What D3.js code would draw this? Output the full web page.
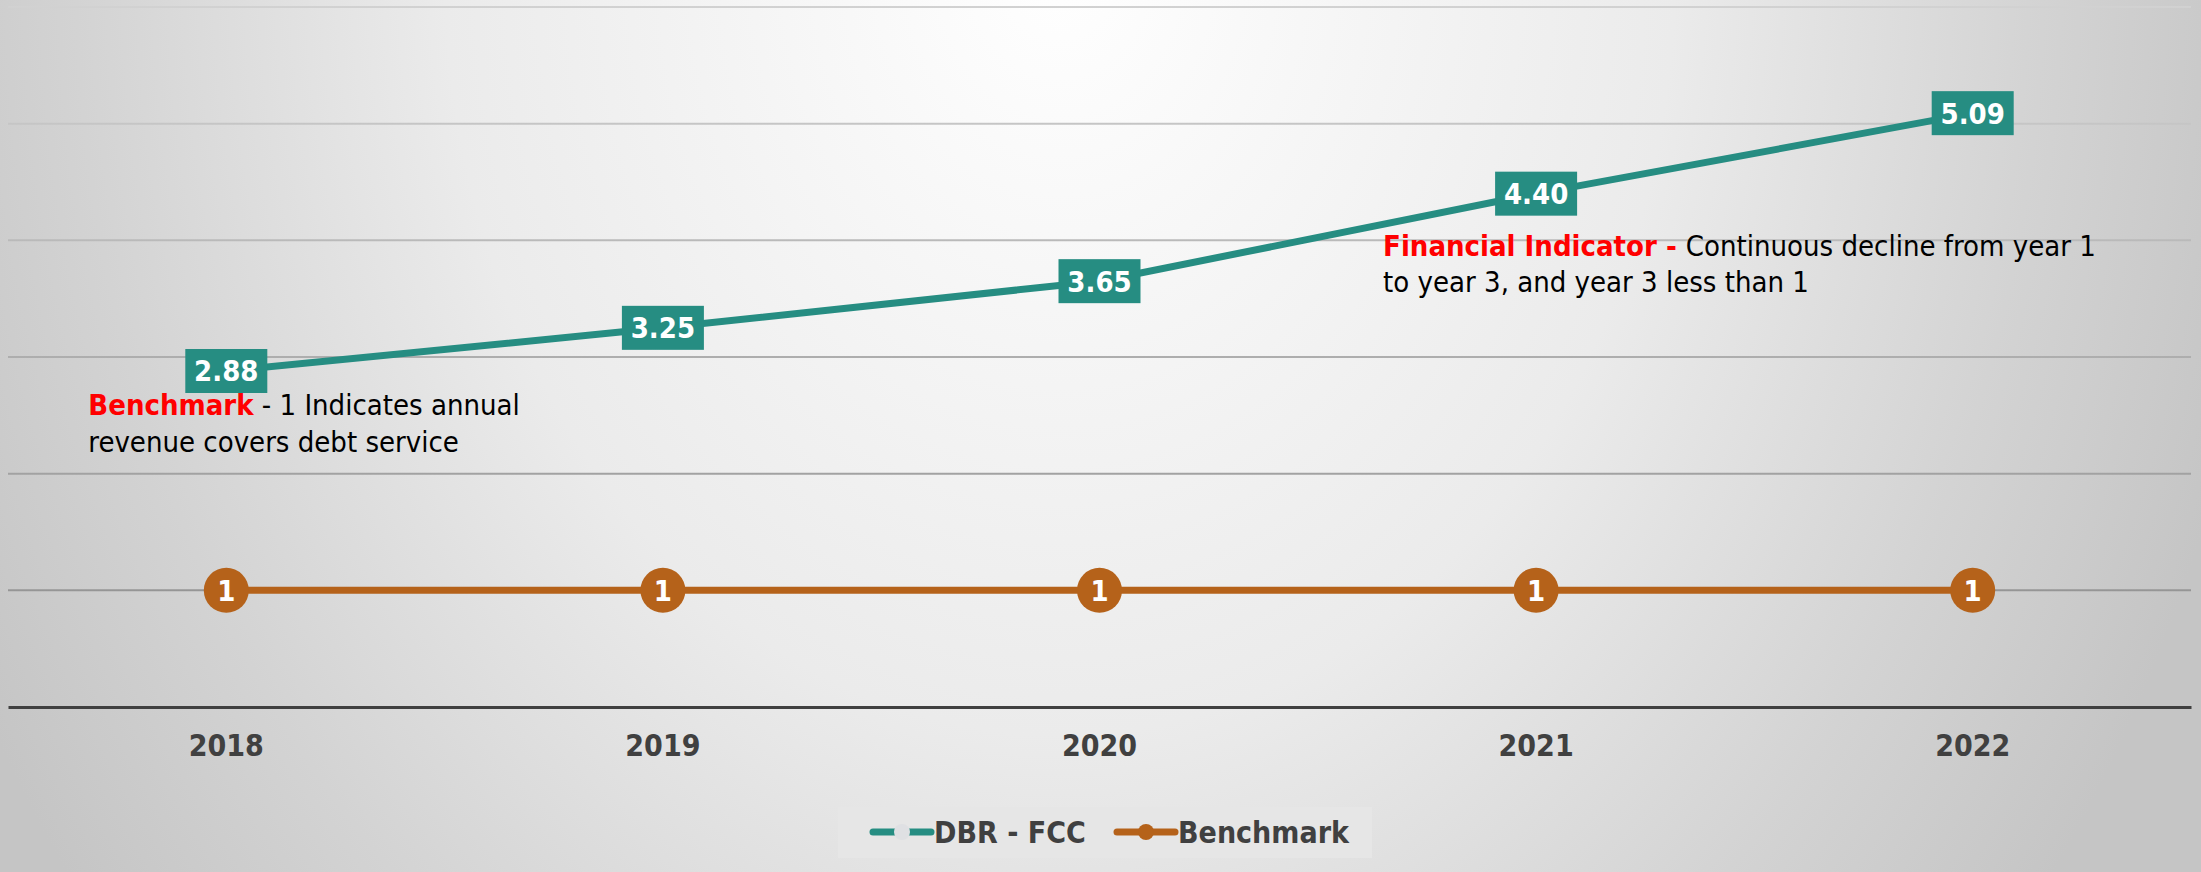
<!DOCTYPE html>
<html>
<head>
<meta charset="utf-8">
<script src="https://cdn.jsdelivr.net/npm/d3@7"></script>
<style>
  body { margin: 0; overflow: hidden; }
  text { font-family: Tahoma, "DejaVu Sans Condensed", "DejaVu Sans", sans-serif; }
</style>
</head>
<body>
<script>
        //chart data
        var years = ["2018", "2019", "2020", "2021", "2022"];
        var dbrFcc = [2.88, 3.25, 3.65, 4.40, 5.09];
        var benchmark = [1, 1, 1, 1, 1];
        var yTicks = [0, 1, 2, 3, 4, 5, 6];
        var seriesNames = ["DBR - FCC", "Benchmark"];

        var width = 2201
        var height = 872

        var teal = "#268d82"
        var orange = "#b5621a"
        var axisGrey = "#404040"

        var svg = d3.select("body")
            .append("svg")
            .attr("width", width)
            .attr("height", height);

        var defs = svg.append("defs")

        //light spot at the top, grey towards the sides (ellipse via transform)
        var bg = defs.append("radialGradient")
            .attr("id", "bg")
            .attr("gradientUnits", "userSpaceOnUse")
            .attr("cx", 0).attr("cy", 0).attr("r", 1)
            .attr("gradientTransform", "translate(1060,-40) scale(1230,1550)")
        bg.append("stop").attr("offset", "0").attr("stop-color", "#ffffff")
        bg.append("stop").attr("offset", "0.5").attr("stop-color", "#ebebeb")
        bg.append("stop").attr("offset", "0.8").attr("stop-color", "#d3d3d3")
        bg.append("stop").attr("offset", "1").attr("stop-color", "#c5c5c5")

        //gridlines get darker lower down
        var gg = defs.append("linearGradient")
            .attr("id", "grid")
            .attr("gradientUnits", "userSpaceOnUse")
            .attr("x1", 0).attr("y1", 0).attr("x2", 0).attr("y2", 707)
        gg.append("stop").attr("offset", "0").attr("stop-color", "#d2d2d2")
        gg.append("stop").attr("offset", "1").attr("stop-color", "#8a8a8a")

        svg.append("rect")
            .attr("width", width)
            .attr("height", height)
            .attr("fill", "url(#bg)")

        var x = d3.scaleBand()
            .domain(years)
            .range([8, 2191])

        var y = d3.scaleLinear()
            .domain([0, 6])
            .range([707, 7])

        function cx(d) { return x(d) + x.bandwidth() / 2 }

        //gridlines
        svg.selectAll(".grid")
            .data(yTicks.slice(1))
            .enter()
            .append("line")
            .attr("class", "grid")
            .attr("x1", x.range()[0])
            .attr("x2", x.range()[1])
            .attr("y1", function(d) { return y(d) })
            .attr("y2", function(d) { return y(d) })
            .attr("stroke", "url(#grid)")
            .attr("stroke-width", 2)

        //x axis
        var xAxis = svg.append("g")
            .attr("transform", "translate(0," + y(0) + ")")
            .call(d3.axisBottom(x).tickSize(0).tickPadding(28))
        xAxis.select(".domain")
            .attr("stroke", axisGrey)
            .attr("stroke-width", 3)
        xAxis.selectAll("text")
            .attr("font-size", 30)
            .attr("font-weight", "bold")
            .attr("fill", axisGrey)
            .style("font-family", 'Tahoma, "DejaVu Sans Condensed", "DejaVu Sans", sans-serif')

        //annotation notes
        var note1 = svg.append("text")
            .attr("x", cx("2018") - 138)
            .attr("y", y(dbrFcc[0]) + 44)
            .attr("font-size", 29)
            .attr("fill", "#000")
        note1.append("tspan").attr("fill", "#ff0000").attr("font-weight", "bold").text("Benchmark")
        note1.append("tspan").text(" - 1 Indicates annual")
        svg.append("text")
            .attr("x", cx("2018") - 138)
            .attr("y", y(dbrFcc[0]) + 81)
            .attr("font-size", 29)
            .attr("fill", "#000")
            .text("revenue covers debt service")

        var note2 = svg.append("text")
            .attr("x", cx("2021") - 153)
            .attr("y", y(dbrFcc[3]) + 62)
            .attr("font-size", 29)
            .attr("fill", "#000")
        note2.append("tspan").attr("fill", "#ff0000").attr("font-weight", "bold").text("Financial Indicator - ")
        note2.append("tspan").text("Continuous decline from year 1")
        svg.append("text")
            .attr("x", cx("2021") - 153)
            .attr("y", y(dbrFcc[3]) + 98)
            .attr("font-size", 29)
            .attr("fill", "#000")
            .text("to year 3, and year 3 less than 1")

        var line = d3.line()
            .x(function(d, i) { return cx(years[i]) })
            .y(function(d) { return y(d) })

        //benchmark series
        svg.append("path")
            .attr("d", line(benchmark))
            .attr("fill", "none")
            .attr("stroke", orange)
            .attr("stroke-width", 7)

        var bm = svg.selectAll(".bm")
            .data(benchmark)
            .enter()
            .append("g")
            .attr("class", "bm")
            .attr("transform", function(d, i) { return "translate(" + cx(years[i]) + "," + y(d) + ")" })
        bm.append("circle")
            .attr("r", 22.5)
            .attr("fill", orange)
        bm.append("text")
            .attr("text-anchor", "middle")
            .attr("dy", "0.36em")
            .attr("font-size", 29)
            .attr("font-weight", "bold")
            .attr("fill", "#fff")
            .text(function(d) { return d })

        //dbr - fcc series
        svg.append("path")
            .attr("d", line(dbrFcc))
            .attr("fill", "none")
            .attr("stroke", teal)
            .attr("stroke-width", 7)

        var lab = svg.selectAll(".lab")
            .data(dbrFcc)
            .enter()
            .append("g")
            .attr("class", "lab")
            .attr("transform", function(d, i) { return "translate(" + cx(years[i]) + "," + y(d) + ")" })
        lab.append("rect")
            .attr("x", -41)
            .attr("y", -22)
            .attr("width", 82)
            .attr("height", 44)
            .attr("fill", teal)
        lab.append("text")
            .attr("text-anchor", "middle")
            .attr("dy", "0.36em")
            .attr("font-size", 29)
            .attr("font-weight", "bold")
            .attr("fill", "#fff")
            .text(function(d) { return d.toFixed(2) })

        //legend
        var legend = svg.append("g")
        legend.append("rect")
            .attr("x", 838)
            .attr("y", 807)
            .attr("width", 534)
            .attr("height", 51)
            .attr("fill", "#e6e6e6")

        var legendX = [873, 1117]
        var legendCol = [teal, orange]
        var legendDot = ["#dfe0e3", orange]
        var item = legend.selectAll(".item")
            .data(seriesNames)
            .enter()
            .append("g")
            .attr("class", "item")
            .attr("transform", function(d, i) { return "translate(" + legendX[i] + ",832)" })
        item.append("line")
            .attr("x1", 0).attr("x2", 58)
            .attr("stroke", function(d, i) { return legendCol[i] })
            .attr("stroke-width", 7)
            .attr("stroke-linecap", "round")
        item.append("circle")
            .attr("cx", 29)
            .attr("r", 8)
            .attr("fill", function(d, i) { return legendDot[i] })
        item.append("text")
            .attr("x", 61)
            .attr("dy", "0.36em")
            .attr("font-size", 30)
            .attr("font-weight", "bold")
            .attr("fill", axisGrey)
            .text(function(d) { return d })
</script>
</body>
</html>
